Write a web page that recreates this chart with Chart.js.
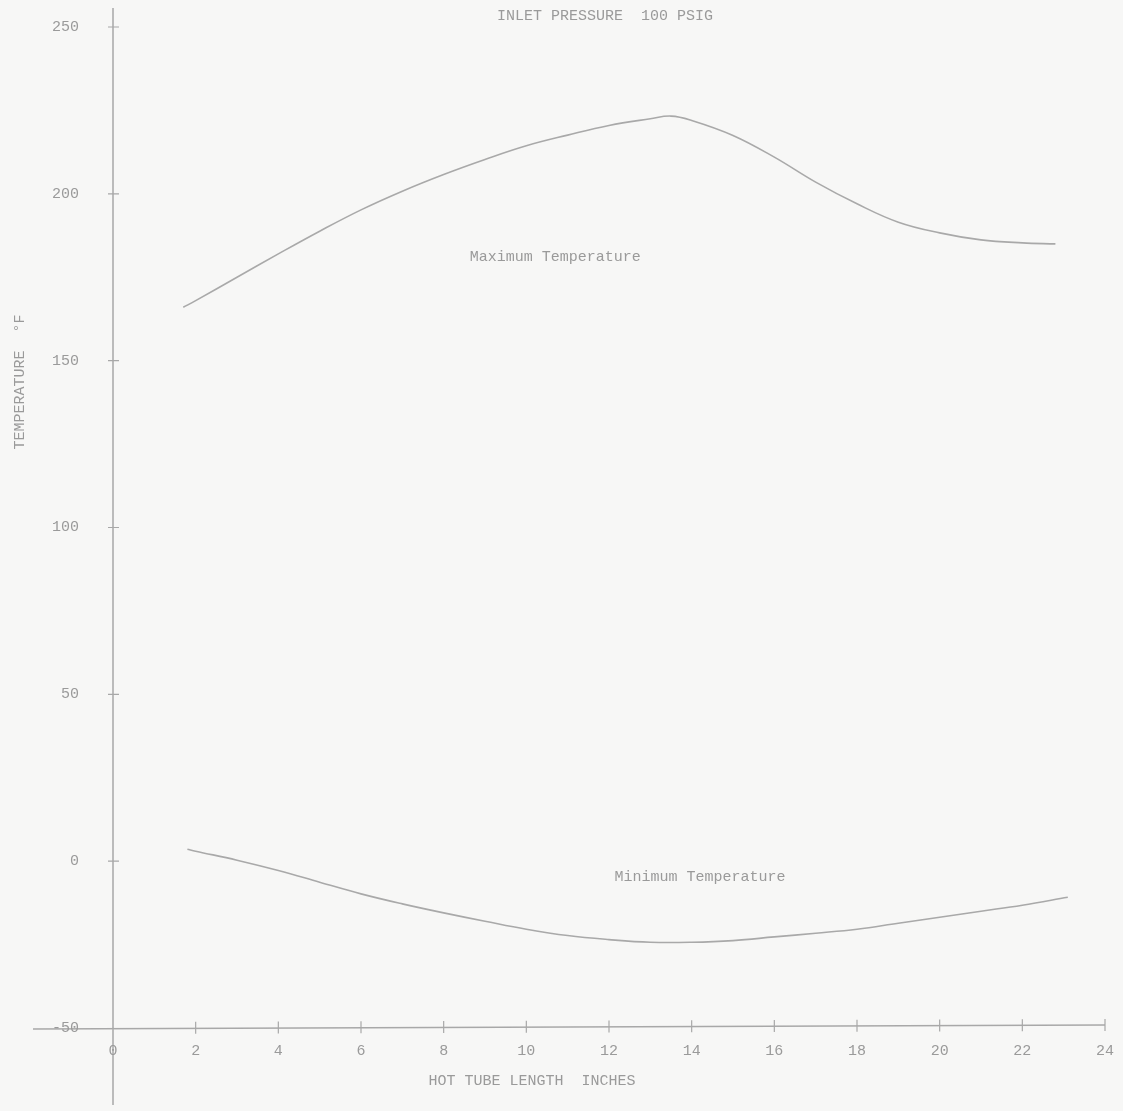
<!DOCTYPE html>
<html lang="en">
  <head>
    <meta charset="UTF-8" />
    <title>Inlet pressure 100 psig</title>
    <script src="https://cdn.jsdelivr.net/npm/chart.js"></script>
    <style>
      html, body { margin: 0; padding: 0; background: #f7f7f6; }
      #wrap { width: 1123px; height: 1111px; }
    </style>
  </head>
  <body>
    <div id="wrap"><canvas id="myChart"></canvas></div>
    <script>
      // hot tube length (inches) and temperatures (deg F)
      const maxLength = [1.7, 2, 3, 4, 5, 6, 7, 8, 9, 10, 11, 12, 13, 13.5, 14, 15, 16, 17, 18, 19, 20, 21, 22, 22.8];
      const maxTemp = [166, 168, 175, 182, 188.8, 195.2, 200.8, 205.8, 210.3, 214.4, 217.6, 220.5, 222.5, 223.3, 222, 217.5, 211, 203.5, 197, 191.5, 188.3, 186.2, 185.3, 185];
      const minLength = [1.8, 2, 3, 4, 5, 6, 7, 8, 9, 10, 11, 12, 13, 14, 15, 16, 17, 18, 19, 20, 21, 22, 23.1];
      const minTemp = [3.6, 3, 0.3, -2.8, -6.3, -9.8, -12.8, -15.5, -18, -20.4, -22.3, -23.5, -24.3, -24.3, -23.8, -22.7, -21.6, -20.4, -18.6, -16.8, -15, -13.2, -10.8];

      const xTicks = [0, 2, 4, 6, 8, 10, 12, 14, 16, 18, 20, 22, 24];
      const yTicks = [-50, 0, 50, 100, 150, 200, 250];

      const chartTitle = "INLET PRESSURE  100 PSIG";
      const xTitle = "HOT TUBE LENGTH  INCHES";
      const yTitle = "TEMPERATURE  \u00B0F";
      const curveLabels = [
        { text: "Maximum Temperature", x: 10.7, y: 181 },
        { text: "Minimum Temperature", x: 14.2, y: -4.8 },
      ];

      const ink = "#9a9a9a";
      const font = "'Liberation Mono', 'DejaVu Sans Mono', monospace";

      const toPoints = (xs, ys) => xs.map((x, i) => ({ x: x, y: ys[i] }));

      // hand drawn looking axes: long lines with cross ticks
      const axesPlugin = {
        id: "axesPlugin",
        beforeDraw(chart) {
          const ctx = chart.ctx;
          const xs = chart.scales.x;
          const ys = chart.scales.y;
          const x0 = xs.getPixelForValue(0);
          const yb = ys.getPixelForValue(-50);
          ctx.save();
          ctx.fillStyle = "#f7f7f6";
          ctx.fillRect(0, 0, chart.width, chart.height);
          ctx.strokeStyle = "#a8a8a8";
          ctx.lineWidth = 1.5;
          ctx.beginPath();
          ctx.moveTo(x0, 8);
          ctx.lineTo(x0, 1105);
          ctx.moveTo(33, yb + 1);
          ctx.lineTo(xs.getPixelForValue(24), yb - 3);
          ctx.stroke();
          ctx.lineWidth = 1.2;
          ctx.beginPath();
          yTicks.forEach((v) => {
            if (v === -50) return;
            const p = ys.getPixelForValue(v);
            ctx.moveTo(x0 - 5, p);
            ctx.lineTo(x0 + 6, p);
          });
          xTicks.forEach((v) => {
            if (v === 0) return;
            const p = xs.getPixelForValue(v);
            const yy = yb - (v / 24) * 3;
            ctx.moveTo(p, yy - 6);
            ctx.lineTo(p, yy + 6);
          });
          ctx.stroke();
          ctx.restore();
        },
        afterDraw(chart) {
          const ctx = chart.ctx;
          const xs = chart.scales.x;
          const ys = chart.scales.y;
          ctx.save();
          ctx.fillStyle = ink;
          ctx.font = "15px " + font;
          ctx.textAlign = "center";
          ctx.textBaseline = "middle";
          ctx.fillText(chartTitle, 605, 16);
          ctx.fillText(xTitle, 532, 1081);
          curveLabels.forEach((l) => {
            ctx.fillText(l.text, xs.getPixelForValue(l.x), ys.getPixelForValue(l.y));
          });
          ctx.translate(20, 382);
          ctx.rotate(-Math.PI / 2);
          ctx.fillText(yTitle, 0, 0);
          ctx.restore();
        },
      };

      new Chart(document.getElementById("myChart"), {
        type: "scatter",
        data: {
          datasets: [
            {
              label: "Maximum Temperature",
              data: toPoints(maxLength, maxTemp),
              showLine: true,
              borderColor: "#a9a9a9",
              borderWidth: 1.6,
              pointRadius: 0,
              tension: 0.4,
            },
            {
              label: "Minimum Temperature",
              data: toPoints(minLength, minTemp),
              showLine: true,
              borderColor: "#a9a9a9",
              borderWidth: 1.6,
              pointRadius: 0,
              tension: 0.4,
            },
          ],
        },
        options: {
          responsive: true,
          maintainAspectRatio: false,
          animation: false,
          layout: { padding: { top: 27, right: 18, left: 0, bottom: 0 } },
          plugins: {
            legend: { display: false },
            tooltip: { enabled: false },
          },
          scales: {
            x: {
              type: "linear",
              min: 0,
              max: 24,
              grid: { display: false, drawTicks: false },
              border: { display: false },
              afterFit: (s) => {
                s.height = 83;
                s.paddingLeft = 0;
                s.paddingRight = 0;
              },
              afterBuildTicks: (s) => { s.ticks = xTicks.map((v) => ({ value: v })); },
              ticks: {
                color: ink,
                font: { family: font, size: 15 },
                padding: 14,
                maxRotation: 0,
              },
            },
            y: {
              type: "linear",
              min: -50,
              max: 250,
              grid: { display: false, drawTicks: false },
              border: { display: false },
              afterFit: (s) => {
                s.width = 113;
                s.paddingTop = 0;
                s.paddingBottom = 0;
              },
              afterBuildTicks: (s) => { s.ticks = yTicks.map((v) => ({ value: v })); },
              ticks: {
                color: ink,
                font: { family: font, size: 15 },
                padding: 34,
              },
            },
          },
        },
        plugins: [axesPlugin],
      });
    </script>
  </body>
</html>
